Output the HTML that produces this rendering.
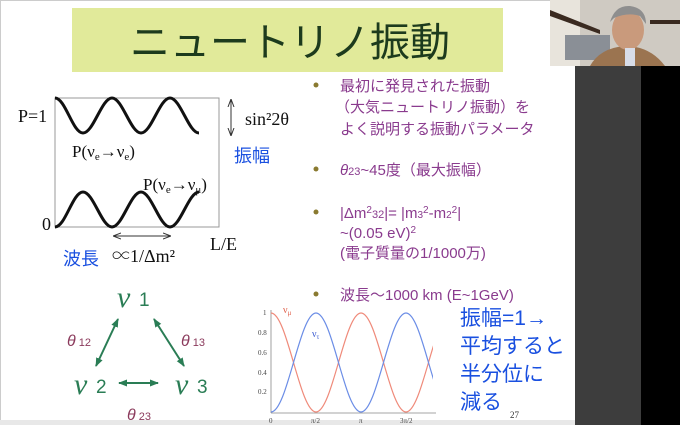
<!DOCTYPE html><html><head><meta charset="utf-8"><style>
html,body{margin:0;padding:0;width:680px;height:425px;overflow:hidden;background:#fff}
svg{display:block}
.j{font-family:"Liberation Sans","Noto Sans CJK JP",sans-serif}
.s{font-family:"Liberation Serif","Noto Serif CJK SC",serif}
</style></head><body>
<svg width="680" height="425" viewBox="0 0 680 425" xmlns="http://www.w3.org/2000/svg">
<defs>
<clipPath id="pc"><rect x="265" y="305" width="168" height="115"/></clipPath>
<marker id="ab" markerUnits="userSpaceOnUse" markerWidth="9" markerHeight="8" refX="8" refY="4" orient="auto-start-reverse"><path d="M0,0.5 L9,4 L0,7.5 Z" fill="#2a7d55"/></marker>
<marker id="ak" markerUnits="userSpaceOnUse" markerWidth="8" markerHeight="8" refX="7" refY="4" orient="auto-start-reverse"><path d="M0,1 L8,4 L0,7" fill="none" stroke="#333" stroke-width="1"/></marker>
</defs>
<rect x="0" y="0" width="680" height="425" fill="#fff"/>
<rect x="0.5" y="0.5" width="575" height="420" fill="none" stroke="#ccc"/>
<rect x="0" y="420" width="576" height="5" fill="#e8e8e8"/>
<rect x="575" y="0" width="66" height="425" fill="#3d3d3d"/>
<rect x="641" y="0" width="39" height="425" fill="#000"/>
<rect x="550" y="0" width="130" height="66" fill="#cfcac2"/>
<rect x="550" y="0" width="30" height="66" fill="#e8e4dc"/>
<path d="M550,10 L600,30 L600,34 L550,16Z" fill="#3a2a20"/>
<rect x="565" y="35" width="45" height="25" fill="#8a8f96"/>
<rect x="650" y="20" width="30" height="4" fill="#3a2a20"/>
<path d="M590,66 Q600,48 625,46 Q650,46 665,66Z" fill="#9b7450"/>
<ellipse cx="628" cy="30" rx="16" ry="20" fill="#c99a7c"/>
<path d="M610,22 Q615,5 630,6 Q646,8 646,24 L640,16 Q628,12 614,18Z" fill="#8e8e8e"/>
<rect x="625" y="48" width="10" height="18" fill="#d8dde8"/>
<rect x="72" y="8" width="431" height="64" fill="#e1ea9a"/>
<text x="290" y="56" text-anchor="middle" class="j" font-size="40" fill="#1d3b1d">ニュートリノ振動</text>
<rect x="55" y="98" width="164" height="129" fill="none" stroke="#999" stroke-width="1"/>
<path d="M55,98 C65.4,98 72.6,133 83,133 C93.4,133 101.6,98 112,98 C122.4,98 130.6,133 141,133 C151.4,133 159.6,98 170,98 C180.4,98 188.6,133 199,133" fill="none" stroke="#111" stroke-width="3"/>
<path d="M55,227 C65.4,227 72.6,192 83,192 C93.4,192 101.6,227 112,227 C122.4,227 130.6,192 141,192 C151.4,192 159.6,227 170,227 C180.4,227 188.6,192 199,192" fill="none" stroke="#111" stroke-width="3"/>
<text x="18" y="122" class="s" font-size="18" fill="#111">P=1</text>
<text x="42" y="230" class="s" font-size="18" fill="#111">0</text>
<line x1="231" y1="100" x2="231" y2="135" stroke="#333" stroke-width="1" marker-start="url(#ak)" marker-end="url(#ak)"/>
<text x="245" y="125" class="s" font-size="18" fill="#111">sin²2θ</text>
<text x="234" y="162" class="j" font-size="18" fill="#1a50e0">振幅</text>
<text x="72" y="157" class="s" font-size="17" fill="#111">P(ν<tspan font-size="11" dy="3">e</tspan><tspan dy="-3">→ν</tspan><tspan font-size="11" dy="3">e</tspan><tspan dy="-3">)</tspan></text>
<text x="143" y="190" class="s" font-size="17" fill="#111">P(ν<tspan font-size="11" dy="3">e</tspan><tspan dy="-3">→ν</tspan><tspan font-size="11" dy="3">μ</tspan><tspan dy="-3">)</tspan></text>
<line x1="114" y1="236" x2="170" y2="236" stroke="#333" stroke-width="1" marker-start="url(#ak)" marker-end="url(#ak)"/>
<text x="210" y="250" class="s" font-size="18" fill="#111">L/E</text>
<text x="63" y="265" class="j" font-size="18" fill="#1a50e0">波長</text>
<text x="112" y="262" class="s" font-size="18" fill="#111">∝1/Δm²</text>
<g class="j" font-size="15" fill="#8a3b8e">
<g fill="#8a7a30"><circle cx="316" cy="85" r="2.5"/><circle cx="316" cy="169" r="2.5"/><circle cx="316" cy="212" r="2.5"/><circle cx="316" cy="294" r="2.5"/></g>
<text x="340" y="91">最初に発見された振動</text>
<text x="335" y="112">（大気ニュートリノ振動）を</text>
<text x="340" y="134">よく説明する振動パラメータ</text>
<text x="340" y="175"><tspan font-style="italic">θ</tspan><tspan font-size="11">23</tspan>~45度（最大振幅）</text>
<text x="340" y="218">|Δm<tspan font-size="10" dy="-5">2</tspan><tspan font-size="11" dy="5">32</tspan>|= |m<tspan font-size="10">3</tspan><tspan font-size="10" dy="-5">2</tspan><tspan dy="5">-m</tspan><tspan font-size="10">2</tspan><tspan font-size="10" dy="-5">2</tspan><tspan dy="5">|</tspan></text>
<text x="340" y="238">~(0.05 eV)<tspan font-size="10" dy="-5">2</tspan></text>
<text x="340" y="258">(電子質量の1/1000万)</text>
<text x="340" y="300">波長～1000 km (E~1GeV)</text>
</g>
<g class="s" font-style="italic" font-size="30" fill="#2a7d55">
<text x="117" y="307">ν</text><text x="74" y="394">ν</text><text x="175" y="394">ν</text></g>
<g class="j" font-size="19" fill="#2a7d55"><text x="139" y="306">1</text><text x="96" y="393">2</text><text x="197" y="393">3</text></g>
<g stroke="#2a7d55" stroke-width="2" fill="none">
<line x1="118" y1="319" x2="96" y2="366" marker-start="url(#ab)" marker-end="url(#ab)"/>
<line x1="154" y1="319" x2="184" y2="366" marker-start="url(#ab)" marker-end="url(#ab)"/>
<line x1="119" y1="383" x2="158" y2="383" marker-start="url(#ab)" marker-end="url(#ab)"/>
</g>
<g class="j" font-size="16" fill="#8b3a5c">
<text x="67" y="346"><tspan font-style="italic">θ</tspan><tspan font-size="11"> 12</tspan></text>
<text x="181" y="346"><tspan font-style="italic">θ</tspan><tspan font-size="11"> 13</tspan></text>
<text x="127" y="420"><tspan font-style="italic">θ</tspan><tspan font-size="11"> 23</tspan></text>
</g>
<line x1="271" y1="310" x2="271" y2="413" stroke="#888" stroke-width="0.8"/>
<line x1="271" y1="413" x2="436" y2="413" stroke="#888" stroke-width="0.8"/>
<g class="s" font-size="7" fill="#444">
<text x="263" y="315">1</text><text x="258" y="335">0.8</text><text x="258" y="355">0.6</text><text x="258" y="375">0.4</text><text x="258" y="394">0.2</text>
<text x="269" y="423">0</text><text x="311" y="423">π/2</text><text x="359" y="423">π</text><text x="400" y="423">3π/2</text></g>
<g clip-path="url(#pc)" fill="none" stroke-width="1.2">
<path d="M271,313 C287.4,313 299.6,412 316,412 C332.4,412 344.6,313 361,313 C377.4,313 389.6,412 406,412 C422.4,412 434.6,313 451,313" stroke="#ef8a7a"/>
<path d="M271,412 C287.4,412 299.6,313 316,313 C332.4,313 344.6,412 361,412 C377.4,412 389.6,313 406,313 C422.4,313 434.6,412 451,412" stroke="#6b8de6"/>
</g>
<text x="283" y="313" class="s" font-size="10" fill="#e0604a">ν<tspan font-size="7" dy="2">μ</tspan></text>
<text x="312" y="337" class="s" font-size="10" fill="#3a5ad0">ν<tspan font-size="7" dy="2">τ</tspan></text>
<g class="j" font-size="21" fill="#1a50e0">
<text x="460" y="325">振幅=1→</text><text x="460" y="353">平均すると</text><text x="460" y="381">半分位に</text><text x="460" y="409">減る</text></g>
<text x="510" y="418" class="s" font-size="9" fill="#333">27</text>
</svg>
</body></html>
